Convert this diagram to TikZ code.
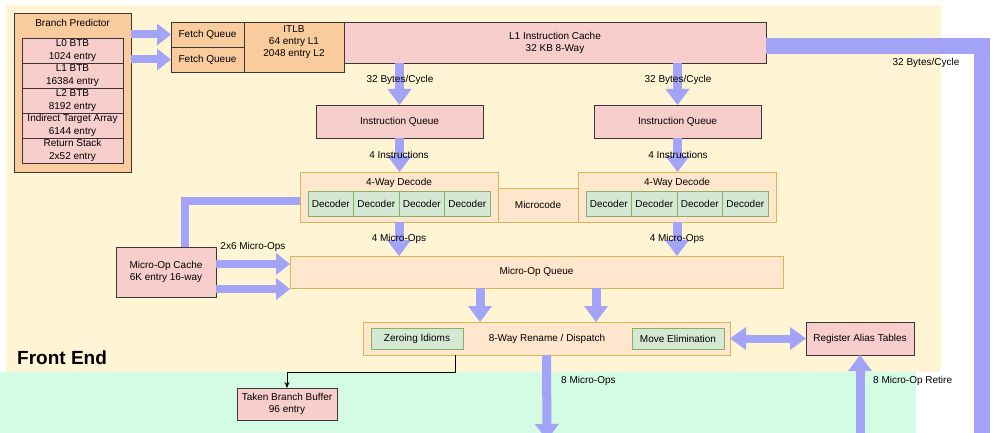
\documentclass[tikz,border=0pt]{standalone}
\usepackage{fontspec}
\setmainfont{Liberation Sans}
\usetikzlibrary{arrows.meta,calc}
\definecolor{febg}{HTML}{FFF4D4}
\definecolor{bebg}{HTML}{D4FCE4}
\definecolor{orng}{HTML}{FACB9C}
\definecolor{pnk}{HTML}{F8CECC}
\definecolor{lorng}{HTML}{FFE6CC}
\definecolor{gold}{HTML}{D6B656}
\definecolor{grn}{HTML}{D5E8D4}
\definecolor{grnb}{HTML}{82B366}
\definecolor{darkb}{HTML}{3D3636}
\definecolor{ablue}{HTML}{A3A3F7}
\begin{document}
\begin{tikzpicture}[x=1pt,y=-1pt,
  font=\fontsize{10}{12}\selectfont,
  box/.style={draw=darkb, line width=0.8pt, inner sep=0pt, outer sep=0pt, align=center, anchor=north west},
  obox/.style={box, fill=orng},
  pbox/.style={box, fill=pnk},
  btbbox/.style={pbox, minimum width=101pt, minimum height=25pt, font=\fontsize{10}{13}\selectfont},
  lbox/.style={box, fill=lorng, draw=gold},
  gbox/.style={box, fill=grn, draw=grnb},
  txt/.style={inner sep=1pt, align=center},
  barrow/.style={draw=ablue, line width=9pt, -{Triangle[width=24pt,length=16pt,line width=0pt]}},
  sarrow/.style={draw=ablue, line width=8pt, -{Triangle[width=22pt,length=14pt,line width=0pt]}},
  dbarrow/.style={draw=ablue, line width=8pt, {Triangle[width=23pt,length=16pt,line width=0pt]}-{Triangle[width=23pt,length=16pt,line width=0pt]}},
  band/.style={draw=ablue, line width=#1, line join=miter},
  thin/.style={draw=black, line width=0.8pt, -{Stealth[length=6pt,width=5pt]}}
]
\useasboundingbox (0,0) rectangle (1007,433);
\clip (0,0) rectangle (1007,433);
% backgrounds
\fill[febg] (6,5) rectangle (941,372);
\fill[bebg] (0,372) rectangle (916,433);

% branch predictor
\node[obox, minimum width=117pt, minimum height=159pt] (bp) at (14,13) {};
\node[txt] (bpt) at (72.5,23) {Branch Predictor};
\node[btbbox] (b0) at (22,38) {L0 BTB\\1024 entry};
\node[btbbox] (b1) at (22,63) {L1 BTB\\16384 entry};
\node[btbbox] (b2) at (22,88) {L2 BTB\\8192 entry};
\node[btbbox] (b3) at (22,113) {Indirect Target Array\\6144 entry};
\node[btbbox] (b4) at (22,138) {Return Stack\\2x52 entry};

% fetch
\node[obox, minimum width=73pt, minimum height=25pt] (fq1) at (171,22) {Fetch Queue};
\node[obox, minimum width=73pt, minimum height=25pt] (fq2) at (171,47) {Fetch Queue};
\node[obox, minimum width=100pt, minimum height=50pt] (itlb) at (244,22) {};
\node[txt] (itlbt) at (294,42.5) {ITLB\\64 entry L1\\2048 entry L2};
\node[pbox, minimum width=422pt, minimum height=41pt] (l1) at (344,22) {L1 Instruction Cache\\32 KB 8-Way};

% instruction queues
\node[pbox, minimum width=167pt, minimum height=33pt] (iq1) at (316,105) {Instruction Queue};
\node[pbox, minimum width=167pt, minimum height=33pt] (iq2) at (594,105) {Instruction Queue};

% decoders
\node[lbox, minimum width=80pt, minimum height=34pt] (mc) at (498,188) {Microcode};
\node[lbox, minimum width=198pt, minimum height=50pt] (dec1) at (300,172) {};
\node[txt] (dec1t) at (399,183) {4-Way Decode};
\node[gbox, minimum width=45.5pt, minimum height=25pt] (d11) at (308,191) {Decoder};
\node[gbox, minimum width=45.5pt, minimum height=25pt] (d12) at (353.5,191) {Decoder};
\node[gbox, minimum width=45.5pt, minimum height=25pt] (d13) at (399,191) {Decoder};
\node[gbox, minimum width=45.5pt, minimum height=25pt] (d14) at (444.5,191) {Decoder};
\node[lbox, minimum width=198pt, minimum height=50pt] (dec2) at (578,172) {};
\node[txt] (dec2t) at (677,183) {4-Way Decode};
\node[gbox, minimum width=45.5pt, minimum height=25pt] (d21) at (586,191) {Decoder};
\node[gbox, minimum width=45.5pt, minimum height=25pt] (d22) at (631.5,191) {Decoder};
\node[gbox, minimum width=45.5pt, minimum height=25pt] (d23) at (677,191) {Decoder};
\node[gbox, minimum width=45.5pt, minimum height=25pt] (d24) at (722.5,191) {Decoder};

% micro-op queue and cache
\node[lbox, minimum width=493pt, minimum height=32pt] (muq) at (290,256) {Micro-Op Queue};
\node[pbox, minimum width=100pt, minimum height=50pt] (moc) at (116,247) {Micro-Op Cache\\6K entry 16-way};

% rename
\node[lbox, minimum width=367pt, minimum height=33pt] (ren) at (363,322) {};
\node[txt] (rent) at (547,339) {8-Way Rename / Dispatch};
\node[gbox, minimum width=92pt, minimum height=21pt] (zi) at (371,328) {Zeroing Idioms};
\node[gbox, minimum width=92pt, minimum height=21pt] (me) at (632,328) {Move Elimination};
\node[pbox, minimum width=108pt, minimum height=33pt] (rat) at (806,322) {Register Alias Tables};
\node[pbox, minimum width=100pt, minimum height=32pt] (tbb) at (237,388) {Taken Branch Buffer\\96 entry};

\node[anchor=west, inner sep=0pt, font=\bfseries\fontsize{19}{22}\selectfont] (fe) at (17,358) {Front End};

% coordinates for free ends
\coordinate (l1out) at (766,46);
\coordinate (bandc) at (982,46);
\coordinate (bandend) at (982,445);
\coordinate (dispout) at (547,440);
\coordinate (retin) at (860,440);
\coordinate (q1) at (480,0);
\coordinate (q2) at (596,0);
\coordinate (tk) at (455,0);

% blue arrows
\draw[sarrow] (bp.east |- fq1.west) -- (fq1.west);
\draw[sarrow] (bp.east |- fq2.west) -- (fq2.west);
\draw[barrow] (l1.south -| iq1.north) -- (iq1.north);
\draw[barrow] (l1.south -| iq2.north) -- (iq2.north);
\draw[barrow] (iq1.south) -- (iq1.south |- dec1.north);
\draw[barrow] (iq2.south) -- (iq2.south |- dec2.north);
\draw[barrow] (dec1.south) -- (dec1.south |- muq.north);
\draw[barrow] (dec2.south) -- (dec2.south |- muq.north);
\draw[band=8pt] (dec1.west |- 0,201) -- (185,201) -- (185,0 |- moc.north);
\draw[sarrow] (moc.east |- 0,264) -- (muq.west |- 0,264);
\draw[sarrow] (moc.east |- 0,289) -- (muq.west |- 0,289);
\draw[barrow] (q1 |- muq.south) -- (q1 |- ren.north);
\draw[barrow] (q2 |- muq.south) -- (q2 |- ren.north);
\draw[dbarrow] (ren.east) -- (rat.west);
\draw[barrow] (ren.south) -- (dispout);
\draw[barrow] (retin) -- (rat.south);
\draw[band=16pt] (l1out) -- (bandc) -- (bandend);
\draw[thin] (tk |- ren.south) -- (455,372) -| (tbb.north);

% labels
\node[txt] (lb1) at (400,80) {32 Bytes/Cycle};
\node[txt] (lb2) at (678,80) {32 Bytes/Cycle};
\node[txt] (lb3) at (399,155) {4 Instructions};
\node[txt] (lb4) at (678,155) {4 Instructions};
\node[txt] (lb5) at (399,239) {4 Micro-Ops};
\node[txt] (lb6) at (677,239) {4 Micro-Ops};
\node[txt] (lb7) at (253,247) {2x6 Micro-Ops};
\node[txt, anchor=west] (lb8) at (560,381) {8 Micro-Ops};
\node[txt, anchor=west] (lb9) at (872,381) {8 Micro-Op Retire};
\node[txt] (lb10) at (926,63) {32 Bytes/Cycle};
\end{tikzpicture}
\end{document}
